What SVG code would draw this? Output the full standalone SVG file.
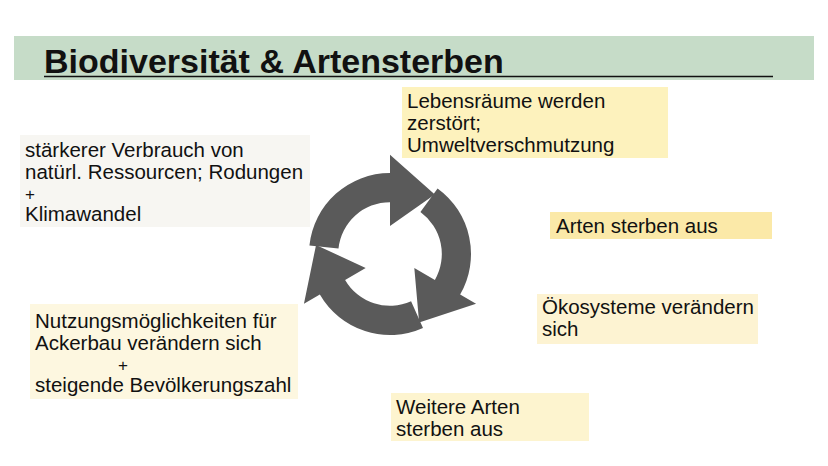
<svg xmlns="http://www.w3.org/2000/svg" xmlns:xlink="http://www.w3.org/1999/xlink" width="828" height="466" viewBox="0 0 828 466">
<style>
text{font-family:"Liberation Sans",Arial,sans-serif;font-size:20.5px;fill:#111}
.plus{font-size:17px}
.title{font-size:34px;font-weight:bold}
</style>
<defs>
<path id="arr" d="M313.4 244.2 A75 75 0 0 1 388 177 L388 160 L429.5 196.9 L388 226 L388 204 A48 48 0 0 0 340.3 247 Z" fill="#5a5a5a"/>
</defs>
<rect width="828" height="466" fill="#fff"/>
<g id="title">
<rect x="14" y="36" width="800" height="44" fill="#c6dcc8"/>
<text class="title" x="44" y="73">Biodiversität &amp; Artensterben</text>
<line x1="44" y1="76.5" x2="773" y2="76.5" stroke="#111" stroke-width="1.5"/>
</g>
<g id="cycle" transform="translate(390 254) scale(1.08) translate(-388 -252)">
<use xlink:href="#arr"/>
<use xlink:href="#arr" transform="rotate(120 388 252)"/>
<use xlink:href="#arr" transform="rotate(240 388 252)"/>
</g>
<g id="n1"><rect x="20" y="135" width="290" height="92" fill="#f7f6f2"/>
<text x="25" y="157">stärkerer Verbrauch von</text><text x="25" y="179">natürl. Ressourcen; Rodungen</text><text class="plus" x="25" y="200">+</text><text x="25" y="221">Klimawandel</text></g>
<g id="n2"><rect x="402" y="87" width="266" height="71" fill="#fdf2bd"/>
<text x="407" y="108">Lebensräume werden</text><text x="407" y="130">zerstört;</text><text x="407" y="152">Umweltverschmutzung</text></g>
<g id="n3"><rect x="550" y="212" width="222" height="27" fill="#fbe9a8"/>
<text x="556" y="233">Arten sterben aus</text></g>
<g id="n4"><rect x="537" y="294" width="221" height="50" fill="#fdf3d2"/>
<text x="542" y="314">Ökosysteme verändern</text><text x="542" y="336">sich</text></g>
<g id="n5"><rect x="391" y="393" width="198" height="48" fill="#fdf4cf"/>
<text x="396" y="414">Weitere Arten</text><text x="396" y="436">sterben aus</text></g>
<g id="n6"><rect x="30" y="304" width="268" height="95" fill="#fdf7e0"/>
<text x="35" y="328">Nutzungsmöglichkeiten für</text><text x="35" y="350">Ackerbau verändern sich</text><text class="plus" x="118" y="371">+</text><text x="35" y="392">steigende Bevölkerungszahl</text></g>
<g id="connectors"/>
</svg>
